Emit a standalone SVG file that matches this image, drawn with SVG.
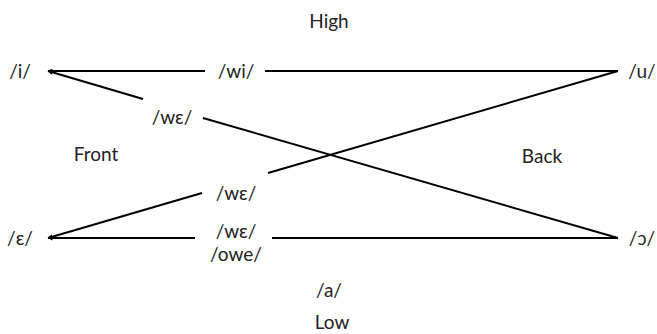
<svg xmlns="http://www.w3.org/2000/svg" width="657" height="334" viewBox="0 0 657 334">
<defs>
<marker id="arr" viewBox="0 0 10 10" refX="9" refY="5" markerWidth="5" markerHeight="5" orient="auto-start-reverse" markerUnits="userSpaceOnUse">
<path d="M0,0 L10,5 L0,10 Z" fill="#000"/>
</marker>
<style>
text{font-family:Lato,"Open Sans",sans-serif;font-size:19px;fill:#222;text-anchor:middle;dominant-baseline:central}
.c{stroke:#000;stroke-width:2;fill:none}
</style>
</defs>
<rect width="657" height="334" fill="#fff"/>
<g id="connectors">
<line class="c" x1="205" y1="71" x2="48" y2="71" marker-end="url(#arr)"/>
<line class="c" x1="265" y1="71" x2="618" y2="71"/>
<line class="c" x1="143" y1="99" x2="48" y2="71" marker-end="url(#arr)"/>
<line class="c" x1="203" y1="118" x2="618" y2="238"/>
<line class="c" x1="618" y1="71" x2="268" y2="173"/>
<line class="c" x1="202" y1="193" x2="48" y2="238" marker-end="url(#arr)"/>
<line class="c" x1="195" y1="238" x2="48" y2="238" marker-end="url(#arr)"/>
<line class="c" x1="272" y1="238" x2="618" y2="238"/>
</g>
<g id="high"><text x="329" y="20">High</text></g>
<g id="low"><text x="332" y="321">Low</text></g>
<g id="front"><text x="96" y="153">Front</text></g>
<g id="back"><text x="542" y="155">Back</text></g>
<g id="i"><text x="20" y="70">/i/</text></g>
<g id="u"><text x="642" y="70">/u/</text></g>
<g id="e"><text x="20" y="237">/ɛ/</text></g>
<g id="o"><text x="642" y="237">/ɔ/</text></g>
<g id="wi"><text x="236" y="70">/wi/</text></g>
<g id="we1"><text x="172" y="116">/wɛ/</text></g>
<g id="we2"><text x="236" y="192">/wɛ/</text></g>
<g id="we3"><text x="236" y="230">/wɛ/</text></g>
<g id="owe"><text x="236" y="253">/owe/</text></g>
<g id="a"><text x="329" y="289">/a/</text></g>
</svg>
